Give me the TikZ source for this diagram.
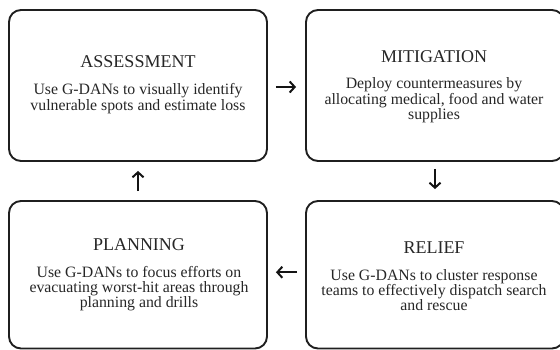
\documentclass[tikz,border=0pt]{standalone}
\usepackage{fontspec}
\setmainfont{Liberation Serif}
\usetikzlibrary{arrows.meta}
\newcommand{\bodylines}[1]{\begin{tabular}[t]{@{}c@{}}#1\end{tabular}}
\begin{document}
\begin{tikzpicture}[x=1pt,y=-1pt,
  box/.style={draw=black!88, line width=1.9pt, rounded corners=12pt, inner sep=0pt,
              minimum width=258pt, minimum height=#1},
  ttl/.style={font=\fontsize{18}{20}\selectfont, anchor=base, inner sep=0pt, text=black!85},
  bdy/.style={font=\fontsize{15.8}{14.2}\selectfont, anchor=base, inner sep=0pt, text=black!85},
  arr/.style={-{Straight Barb[length=5pt,width=11pt,line width=2pt]}, line width=2pt, black!92}]
\useasboundingbox (0,0) rectangle (560,350);
\clip (0,0) rectangle (560,350);
% boxes
\node[box=151pt] (A) at (138,85.5) {};
\node[box=151pt] (M) at (435,85.5) {};
\node[box=147.5pt] (P) at (138,274.75) {};
\node[box=147.5pt] (R) at (435,274.75) {};
% texts
\node[ttl] (At) at (138,68) {ASSESSMENT};
\node[bdy] (Ab) at (138,95) {\bodylines{Use G-DANs to visually identify\\vulnerable spots and estimate loss}};
\node[ttl] (Mt) at (434,63) {MITIGATION};
\node[bdy] (Mb) at (434,89) {\bodylines{Deploy countermeasures by\\allocating medical, food and water\\supplies}};
\node[ttl] (Pt) at (139,251) {PLANNING};
\node[bdy] (Pb) at (139,277) {\bodylines{Use G-DANs to focus efforts on\\evacuating worst-hit areas through\\planning and drills}};
\node[ttl] (Rt) at (434,253) {RELIEF};
\node[bdy] (Rb) at (434,280) {\bodylines{Use G-DANs to cluster response\\teams to effectively dispatch search\\and rescue}};
% arrows
\draw[arr, shorten <=8pt, shorten >=9pt] ([yshift=-1.5pt]A.east) -- ([yshift=-1.5pt]M.west);
\draw[arr, shorten <=7pt, shorten >=11pt] (M.south) -- (R.north);
\draw[arr, shorten <=8pt, shorten >=8pt] ([yshift=2.5pt]R.west) -- ([yshift=2.5pt]P.east);
\draw[arr, shorten <=9pt, shorten >=9pt] (P.north) -- (A.south);
\end{tikzpicture}
\end{document}
